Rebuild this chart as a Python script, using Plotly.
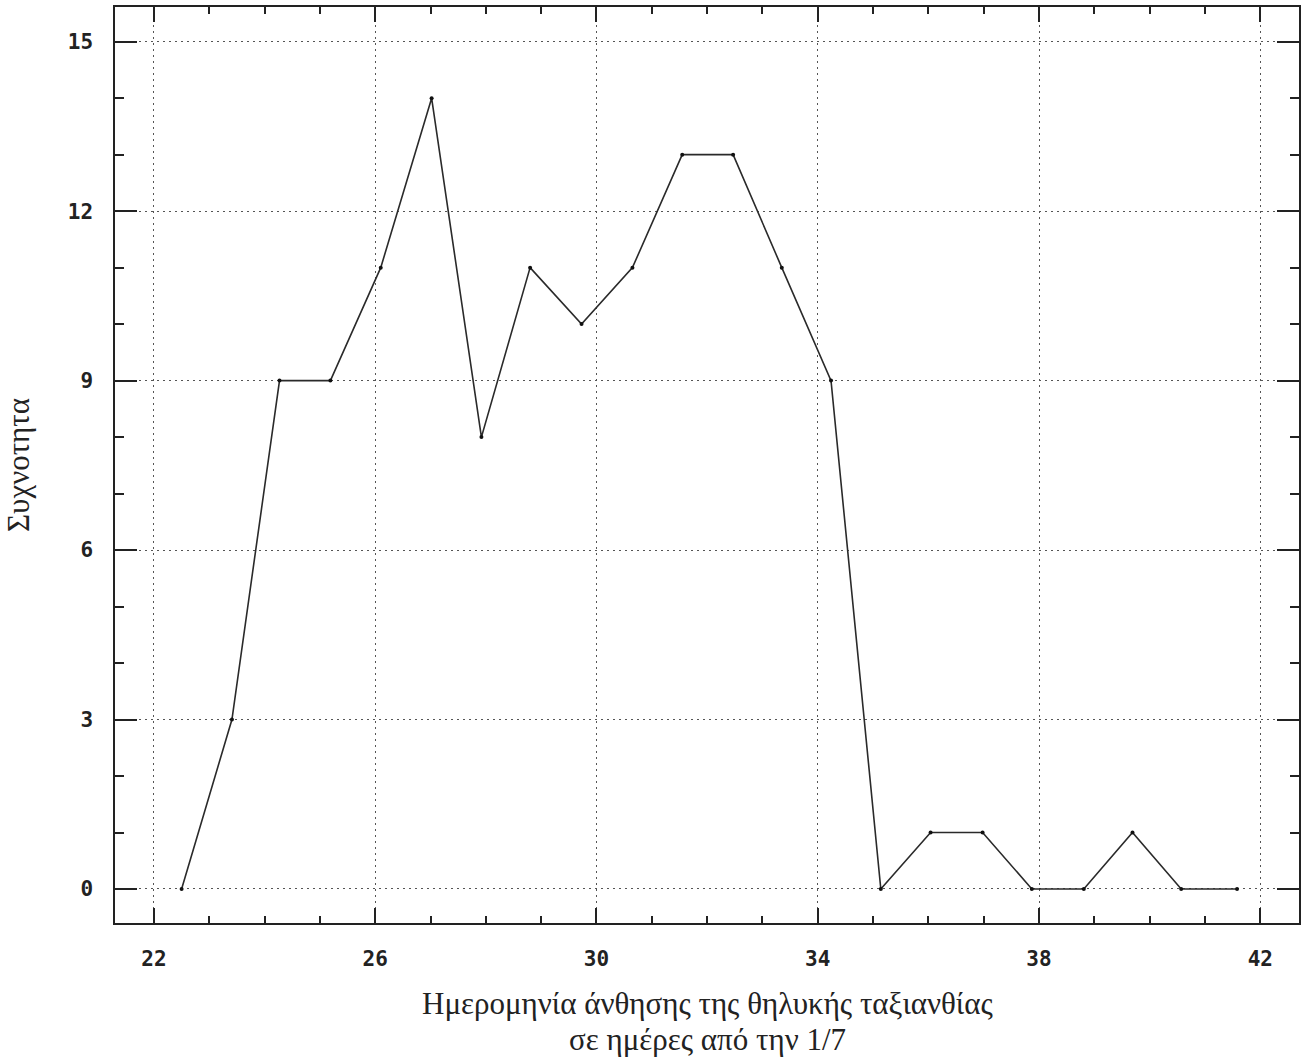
import plotly.graph_objects as go

# Flowering date of the female inflorescence (days from 1/7) and frequency
days = [22.50, 23.41, 24.27, 25.19, 26.10, 27.02, 27.92, 28.80, 29.73, 30.65, 31.55,
        32.47, 33.35, 34.24, 35.14, 36.04, 36.98, 37.87, 38.81, 39.69, 40.57, 41.58]
frequency = [0, 3, 9, 9, 11, 14, 8, 11, 10, 11, 13,
             13, 11, 9, 0, 1, 1, 0, 0, 1, 0, 0]

x_ticks = [22, 26, 30, 34, 38, 42]
y_ticks = [0, 3, 6, 9, 12, 15]

x_title_lines = ["Ημερομηνία άνθησης της θηλυκής ταξιανθίας", "σε ημέρες από την 1/7"]
y_title = "Συχνοτητα"

tick_font = dict(family="DejaVu Sans Mono", size=21, color="#222", weight="bold")
title_font = dict(family="Liberation Serif", size=31, color="#222")
grid_dash = "2px,4px"

fig = go.Figure()
fig.add_trace(go.Scatter(
    x=days, y=frequency, mode="lines+markers",
    line=dict(color="#2a2a2a", width=1.6),
    marker=dict(color="#111111", size=4),
    showlegend=False,
))

annotations = [dict(
    text=y_title, xref="paper", yref="paper", x=0, xshift=-97, y=0.5,
    xanchor="center", yanchor="middle", textangle=-90, showarrow=False,
    font=title_font,
)]
for i, line in enumerate(x_title_lines):
    annotations.append(dict(
        text=line, xref="paper", yref="paper", x=0.5, y=0, yshift=-80 - 36 * i,
        xanchor="center", yanchor="middle", showarrow=False, font=title_font,
    ))

fig.update_layout(
    width=1303, height=1062,
    margin=dict(l=115, r=2, t=7, b=139),
    paper_bgcolor="white", plot_bgcolor="white",
    xaxis=dict(
        range=[21.296, 42.70], tickvals=x_ticks, ticktext=[str(v) for v in x_ticks],
        ticks="inside", ticklen=15, tickwidth=2, tickcolor="#222",
        minor=dict(dtick=1, tick0=0, ticks="inside", ticklen=7, tickwidth=2,
                   tickcolor="#222", showgrid=False),
        showline=True, linecolor="#222", linewidth=1.5, mirror="ticks",
        showgrid=True, gridcolor="#555", gridwidth=1, griddash=grid_dash,
        zeroline=False, tickfont=tick_font, ticklabelstandoff=16,
    ),
    yaxis=dict(
        range=[-0.602, 15.614], tickvals=y_ticks, ticktext=[str(v) for v in y_ticks],
        ticks="inside", ticklen=22, tickwidth=2, tickcolor="#222",
        minor=dict(dtick=1, tick0=0, ticks="inside", ticklen=9, tickwidth=2,
                   tickcolor="#222", showgrid=False),
        showline=True, linecolor="#222", linewidth=1.5, mirror="ticks",
        showgrid=True, gridcolor="#555", gridwidth=1, griddash=grid_dash,
        zeroline=False, tickfont=tick_font, ticklabelstandoff=16,
    ),
    annotations=annotations,
)

fig.write_html("out.html")
